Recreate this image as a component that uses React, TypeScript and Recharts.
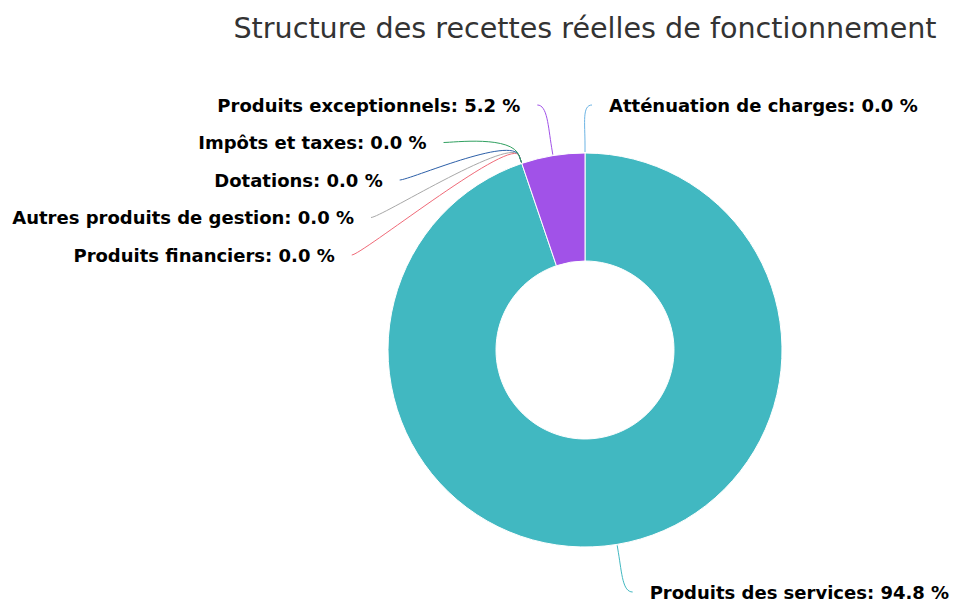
import { PieChart, Pie, Cell } from 'recharts';

const categories = [
  'Atténuation de charges',
  'Produits des services',
  'Produits financiers',
  'Autres produits de gestion',
  'Dotations',
  'Impôts et taxes',
  'Produits exceptionnels',
];
const shares = [0.0, 94.8, 0.0, 0.0, 0.0, 0.0, 5.2];
const colors = ['#6cb4e4', '#41b8c1', '#f06a78', '#a8a8a8', '#2c5fa8', '#30a060', '#a152e8'];

const chartData = categories.map((name, i) => ({ name, value: shares[i] }));

const CX = 585;
const CY = 350;
const OUTER = 197;
const INNER = 89;
const LABEL_R = 250;
const SPACING = 37.5;
const TOP = 105;
const BOTTOM = 592;
const RAD = Math.PI / 180;

// midAngle of each slice (recharts convention, start at 12 o'clock, clockwise)
const total = shares.reduce((a, b) => a + b, 0);
const midAngles: number[] = [];
{
  let acc = 0;
  shares.forEach((v) => {
    const start = 90 - (acc / total) * 360;
    acc += v;
    const end = 90 - (acc / total) * 360;
    midAngles.push((start + end) / 2);
  });
}

// spread the labels on each side so they do not overlap
const labelPos: { x: number; y: number; left: boolean }[] = [];
{
  const items = midAngles.map((a, i) => ({
    i,
    left: Math.cos(a * RAD) < -1e-9,
    x: CX + LABEL_R * Math.cos(a * RAD),
    y: CY - LABEL_R * Math.sin(a * RAD),
  }));
  [true, false].forEach((left) => {
    const dir = left ? -1 : 1;
    const side = items
      .filter((it) => it.left === left)
      .sort((a, b) => (Math.abs(a.y - b.y) < 0.01 ? b.i - a.i : a.y - b.y));
    let prev = -Infinity;
    side.forEach((it) => {
      const yd = Math.max(it.y, prev + SPACING);
      prev = Math.max(yd, TOP);
      let x;
      if (yd - it.y > 0.5) {
        const dy = yd - CY;
        x = CX + dir * (Math.sqrt(Math.max(0, LABEL_R * LABEL_R - dy * dy)) + 2);
      } else {
        x = it.x + dir * 7;
      }
      const y = Math.min(Math.max(yd, TOP), BOTTOM);
      labelPos[it.i] = { x, y, left };
    });
  });
}

const renderLabel = (props: any) => {
  const { cx, cy, midAngle, outerRadius, index, name, value } = props;
  const pos = labelPos[index];
  if (!pos) return null;
  const c = Math.cos(-midAngle * RAD);
  const s = Math.sin(-midAngle * RAD);
  const x0 = cx + (outerRadius + 1) * c;
  const y0 = cy + (outerRadius + 1) * s;
  const x1 = cx + (outerRadius + 8) * c;
  const y1 = cy + (outerRadius + 8) * s;
  const dir = pos.left ? -1 : 1;
  const d = `M${x0},${y0} L${x1},${y1} C${x1 + c * 22},${y1 + s * 22} ${pos.x - dir * 10},${pos.y} ${pos.x},${pos.y}`;
  return (
    <g key={`lbl-${index}`}>
      <path d={d} fill="none" stroke={colors[index]} strokeWidth={1} />
      <text
        x={pos.x + dir * 17}
        y={pos.y}
        textAnchor={pos.left ? 'end' : 'start'}
        dominantBaseline="central"
        fontFamily="'DejaVu Sans', Verdana, sans-serif"
        fontWeight="bold"
        fontSize={18}
        fill="#000"
      >
        {`${name}: ${Number(value).toFixed(1)} %`}
      </text>
    </g>
  );
};

export default function App() {
  return (
    <div style={{ position: 'absolute', left: 0, top: 0, width: 956, height: 603, background: '#fff' }}>
      <div
        style={{
          position: 'absolute',
          left: CX,
          top: 14,
          transform: 'translateX(-50%)',
          whiteSpace: 'nowrap',
          fontFamily: "'DejaVu Sans', Verdana, sans-serif",
          fontSize: 28.6,
          lineHeight: '29px',
          color: '#333333',
        }}
      >
        Structure des recettes réelles de fonctionnement
      </div>
      <PieChart width={956} height={603} margin={{ top: 0, right: 0, bottom: 0, left: 0 }}>
        <Pie
          data={chartData}
          dataKey="value"
          nameKey="name"
          cx={CX}
          cy={CY}
          innerRadius={INNER}
          outerRadius={OUTER}
          startAngle={90}
          endAngle={-270}
          stroke="#ffffff"
          strokeWidth={1}
          label={renderLabel}
          labelLine={false}
          isAnimationActive={false}
        >
          {chartData.map((d, i) => (
            <Cell key={d.name} fill={colors[i]} />
          ))}
        </Pie>
      </PieChart>
    </div>
  );
}
